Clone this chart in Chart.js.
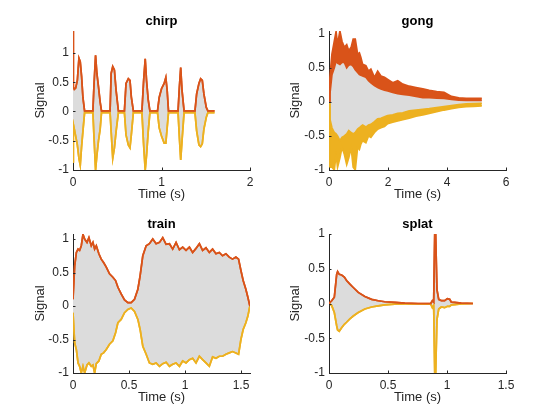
<!DOCTYPE html>
<html>
<head>
<meta charset="utf-8">
<script src="https://cdn.jsdelivr.net/npm/chart.js@4.4.0/dist/chart.umd.min.js"></script>
<style>
  html, body { margin: 0; padding: 0; background: #fff; }
  body { width: 560px; height: 420px; position: relative; overflow: hidden; }
  .panel { position: absolute; width: 280px; height: 210px; }
</style>
</head>
<body>
<div class="panel" style="left:0;top:0"><canvas id="chirp" width="280" height="210"></canvas></div>
<div class="panel" style="left:280px;top:0"><canvas id="gong" width="280" height="210"></canvas></div>
<div class="panel" style="left:0;top:203px"><canvas id="train" width="280" height="210"></canvas></div>
<div class="panel" style="left:280px;top:203px"><canvas id="splat" width="280" height="210"></canvas></div>
<script>
// envelope values (time in s)
const chirpTime = [0, 0.004, 0.015, 0.030, 0.049, 0.067, 0.082, 0.097, 0.112, 0.131,
  0.225, 0.236, 0.255, 0.270, 0.288, 0.307, 0.322,
  0.419, 0.431, 0.449, 0.468, 0.487, 0.513,
  0.581, 0.599, 0.625, 0.644, 0.659, 0.682,
  0.779, 0.798, 0.816, 0.831, 0.850, 0.869,
  0.955, 0.974, 1.000, 1.030, 1.049, 1.064, 1.079,
  1.187, 1.202, 1.217, 1.232, 1.255,
  1.378, 1.397, 1.423, 1.442, 1.461, 1.479, 1.506, 1.524, 1.599];
const chirpUpper = [1.38, 0.42, 0.38, 0.40, 0.53, 0.91, 0.85, 0.60, 0.24, 0.01,
  0.01, 0.42, 0.96, 0.65, 0.42, 0.16, 0.01,
  0.01, 0.65, 0.77, 0.71, 0.36, 0.01,
  0.01, 0.48, 0.56, 0.53, 0.25, 0.01,
  0.01, 0.53, 0.90, 0.53, 0.20, 0.01,
  0.01, 0.24, 0.39, 0.48, 0.58, 0.36, 0.01,
  0.01, 0.42, 0.75, 0.36, 0.01,
  0.01, 0.30, 0.48, 0.56, 0.53, 0.30, 0.07, 0.01, 0.01];
const chirpLower = [-0.86, -0.22, -0.30, -0.42, -0.57, -0.80, -0.92, -0.60, -0.34, -0.02,
  -0.02, -0.40, -1.00, -0.75, -0.50, -0.30, -0.02,
  -0.02, -0.34, -0.80, -0.62, -0.34, -0.02,
  -0.02, -0.40, -0.57, -0.62, -0.40, -0.02,
  -0.02, -0.57, -1.00, -0.75, -0.34, -0.02,
  -0.02, -0.28, -0.42, -0.54, -0.54, -0.28, -0.02,
  -0.02, -0.45, -0.83, -0.50, -0.02,
  -0.02, -0.33, -0.57, -0.60, -0.55, -0.30, -0.10, -0.02, -0.02];

// the gong envelopes wobble fast, so each one is a band: outer and inner edge
const gongTime = [0, 0.03, 0.10, 0.18, 0.24, 0.29, 0.37, 0.44, 0.52, 0.60, 0.67, 0.75,
  0.82, 0.89, 0.97, 1.03, 1.08, 1.14, 1.25, 1.34, 1.42, 1.54, 1.65, 1.76, 1.88, 1.99,
  2.16, 2.33, 2.50, 2.72, 2.95, 3.18, 3.40, 3.65, 3.90, 4.15, 4.40, 4.65, 4.90, 5.18];
const gongUpperOuter = [0.00, 0.36, 0.70, 0.89, 1.03, 0.84, 1.04, 0.89, 0.80, 0.84, 0.75, 0.80,
  0.92, 0.92, 0.70, 0.72, 0.65, 0.55, 0.53, 0.45, 0.48, 0.36, 0.45, 0.38, 0.36, 0.33,
  0.28, 0.31, 0.26, 0.23, 0.21, 0.19, 0.17, 0.15, 0.14, 0.08, 0.06, 0.05, 0.05, 0.05];
const gongUpperInner = [0.00, 0.11, 0.40, 0.50, 0.60, 0.57, 0.55, 0.58, 0.58, 0.50, 0.54, 0.55,
  0.52, 0.47, 0.43, 0.40, 0.39, 0.38, 0.36, 0.31, 0.28, 0.24, 0.21, 0.19, 0.17, 0.16,
  0.14, 0.12, 0.11, 0.10, 0.08, 0.06, 0.06, 0.055, 0.05, 0.035, 0.025, 0.02, 0.02, 0.02];
const gongLowerInner = [-0.02, -0.25, -0.38, -0.45, -0.47, -0.50, -0.57, -0.52, -0.50, -0.47, -0.42, -0.45,
  -0.47, -0.45, -0.40, -0.38, -0.36, -0.34, -0.37, -0.34, -0.33, -0.29, -0.25, -0.24, -0.22, -0.20,
  -0.19, -0.17, -0.16, -0.13, -0.12, -0.11, -0.10, -0.085, -0.07, -0.055, -0.04, -0.03, -0.025, -0.02];
const gongLowerOuter = [-0.02, -0.96, -0.96, -1.00, -0.77, -0.96, -0.82, -0.67, -0.77, -0.92, -0.82, -0.67,
  -0.96, -1.00, -0.67, -0.70, -0.62, -0.57, -0.60, -0.50, -0.52, -0.45, -0.40, -0.38, -0.36, -0.32,
  -0.30, -0.28, -0.26, -0.24, -0.21, -0.19, -0.17, -0.145, -0.12, -0.10, -0.08, -0.07, -0.065, -0.06];

const trainTime = [0, 0.015, 0.030, 0.045, 0.059, 0.074, 0.089, 0.104, 0.125, 0.142, 0.163, 0.178,
  0.193, 0.208, 0.231, 0.252, 0.273, 0.297, 0.326, 0.356, 0.380, 0.401, 0.430, 0.460, 0.490,
  0.519, 0.549, 0.579, 0.599, 0.623, 0.653, 0.682, 0.712, 0.742, 0.772, 0.801, 0.831, 0.861,
  0.890, 0.920, 0.950, 0.979, 1.009, 1.039, 1.068, 1.098, 1.128, 1.157, 1.187, 1.217, 1.246,
  1.276, 1.306, 1.335, 1.365, 1.395, 1.424, 1.454, 1.478, 1.499, 1.519, 1.543, 1.561, 1.579];
const trainUpper = [0.10, 0.60, 0.80, 0.85, 0.83, 0.90, 1.07, 1.00, 0.95, 1.02, 0.90, 0.95,
  0.85, 0.90, 0.78, 0.70, 0.65, 0.58, 0.48, 0.43, 0.38, 0.28, 0.18, 0.09, 0.05,
  0.05, 0.10, 0.25, 0.45, 0.75, 0.90, 0.93, 1.00, 0.93, 0.95, 1.02, 0.92, 0.93,
  0.85, 0.95, 0.84, 0.88, 0.83, 0.88, 0.80, 0.86, 0.93, 0.83, 0.87, 0.80, 0.85,
  0.78, 0.80, 0.75, 0.78, 0.73, 0.70, 0.73, 0.70, 0.53, 0.38, 0.25, 0.13, 0.00];
const trainLower = [-0.10, -0.55, -0.65, -0.85, -0.90, -1.00, -0.90, -1.00, -0.88, -0.85, -0.90, -0.88,
  -1.00, -0.86, -0.82, -0.72, -0.70, -0.65, -0.57, -0.52, -0.40, -0.25, -0.20, -0.10, -0.05,
  -0.03, -0.08, -0.20, -0.35, -0.60, -0.72, -0.85, -0.87, -0.85, -0.90, -0.86, -0.84, -0.90,
  -0.87, -0.85, -0.90, -0.82, -0.85, -0.80, -0.78, -0.85, -0.75, -0.80, -0.85, -0.90, -0.76,
  -0.78, -0.75, -0.75, -0.72, -0.70, -0.68, -0.70, -0.72, -0.50, -0.35, -0.25, -0.15, 0.00];

const splatTime = [0, 0.023, 0.045, 0.065, 0.073, 0.087, 0.107, 0.130, 0.149, 0.177, 0.206, 0.248,
  0.304, 0.361, 0.417, 0.473, 0.558, 0.642, 0.755, 0.862, 0.876, 0.887, 0.896, 0.904, 0.915,
  0.930, 0.952, 0.980, 1.003, 1.023, 1.037, 1.065, 1.121, 1.220];
const splatUpper = [0.00, 0.04, 0.09, 0.42, 0.46, 0.42, 0.41, 0.38, 0.33, 0.28, 0.23, 0.16,
  0.10, 0.06, 0.04, 0.025, 0.015, 0.005, 0.00, 0.00, 0.04, 0.02, 1.00, 1.00, 0.20,
  0.06, 0.04, 0.04, 0.07, 0.06, 0.02, 0.015, 0.005, 0.00];
const splatLower = [0.00, -0.03, -0.13, -0.32, -0.38, -0.40, -0.35, -0.30, -0.27, -0.22, -0.18, -0.13,
  -0.08, -0.05, -0.035, -0.02, -0.01, -0.005, -0.005, -0.01, -0.06, -0.03, -1.00, -1.00, -0.23,
  -0.08, -0.05, -0.06, -0.04, -0.04, -0.02, -0.015, -0.005, 0.00];

const yTicks = [-1, -0.5, 0, 0.5, 1];
const chirpXTicks = [0, 1, 2];
const gongXTicks = [0, 2, 4, 6];
const trainXTicks = [0, 0.5, 1, 1.5];
const splatXTicks = [0, 0.5, 1, 1.5];

const FONT = "'Liberation Sans', Arial, Helvetica, sans-serif";
const AXIS = '#262626';
const ORANGE = '#D95319';
const YELLOW = '#EDB120';
const GREY = 'rgb(220, 220, 220)';

// MATLAB style ticks pointing into the axes
const innerTicks = {
  id: 'innerTicks',
  afterDraw(chart) {
    const {ctx, chartArea, scales} = chart;
    ctx.save();
    ctx.strokeStyle = AXIS;
    ctx.lineWidth = 1;
    scales.x.ticks.forEach(t => {
      const px = Math.round(scales.x.getPixelForValue(t.value)) + 0.5;
      ctx.beginPath();
      ctx.moveTo(px, chartArea.bottom);
      ctx.lineTo(px, chartArea.bottom - 2.5);
      ctx.stroke();
    });
    scales.y.ticks.forEach(t => {
      const py = Math.round(scales.y.getPixelForValue(t.value)) + 0.5;
      ctx.beginPath();
      ctx.moveTo(chartArea.left, py);
      ctx.lineTo(chartArea.left + 2.5, py);
      ctx.stroke();
    });
    ctx.restore();
  }
};

const line = (label, points, color, fill, fillColor) => ({
  label: label,
  data: points,
  borderColor: color,
  backgroundColor: fillColor,
  fill: fill,
  borderWidth: 1.7,
  pointRadius: 0,
  tension: 0,
});

function envelopePlot(id, time, upperOuter, upperInner, lowerInner, lowerOuter, xMax, yMax, xTicks, axisLeft, axisRight, ylabelX) {
  const toPoints = vals => vals.map((v, i) => ({x: time[i], y: v}));
  return new Chart(document.getElementById(id), {
    type: 'line',
    data: {
      datasets: [
        line('upper', toPoints(upperOuter), ORANGE, '+1', ORANGE),
        line('upper inner', toPoints(upperInner), ORANGE, '+1', GREY),
        line('lower inner', toPoints(lowerInner), YELLOW, '+1', YELLOW),
        line('lower', toPoints(lowerOuter), YELLOW, false, YELLOW),
      ]
    },
    options: {
      responsive: false,
      animation: false,
      events: [],
      layout: {padding: {left: 0, right: 280 - axisRight, top: 0, bottom: 4}},
      plugins: {
        legend: {display: false},
        tooltip: {enabled: false},
        filler: {drawTime: 'beforeDatasetsDraw'},
        title: {
          display: true,
          fullSize: false,
          text: id,
          color: '#000',
          font: {family: FONT, size: 13, weight: 'bold'},
          padding: {top: 13.2, bottom: 2.2},
        },
      },
      scales: {
        x: {
          type: 'linear',
          min: 0,
          max: xMax,
          grid: {display: false, drawTicks: false, tickLength: 0},
          border: {display: true, color: AXIS, width: 1},
          ticks: {
            color: AXIS, padding: 5, autoSkip: false, maxRotation: 0,
            font: {family: FONT, size: 12},
            callback: v => String(v),
          },
          title: {
            display: true, text: 'Time (s)', color: AXIS,
            font: {family: FONT, size: 13},
            padding: {top: 0, bottom: 4.2},
          },
          afterBuildTicks: s => { s.ticks = xTicks.map(v => ({value: v})); },
          afterFit: s => { s.height = 36; s.paddingLeft = 0; s.paddingRight = 0; },
        },
        y: {
          type: 'linear',
          min: -1,
          max: yMax,
          grid: {display: false, drawTicks: false, tickLength: 0},
          border: {display: true, color: AXIS, width: 1},
          ticks: {
            color: AXIS, padding: 4, autoSkip: false,
            font: {family: FONT, size: 12},
            callback: v => String(v),
          },
          title: {
            display: true, text: 'Signal', color: AXIS,
            font: {family: FONT, size: 13},
            padding: {top: ylabelX - 7.8, bottom: 0},
          },
          afterBuildTicks: s => { s.ticks = yTicks.map(v => ({value: v})); },
          afterFit: s => { s.width = axisLeft; s.paddingTop = 0; s.paddingBottom = 0; },
        },
      }
    },
    plugins: [innerTicks]
  });
}

envelopePlot('chirp', chirpTime, chirpUpper, chirpUpper, chirpLower, chirpLower, 2, 1.376, chirpXTicks, 73, 250, 40);
envelopePlot('gong', gongTime, gongUpperOuter, gongUpperInner, gongLowerInner, gongLowerOuter, 6, 1.04, gongXTicks, 49, 226, 15);
envelopePlot('train', trainTime, trainUpper, trainUpper, trainLower, trainLower, 1.58, 1.075, trainXTicks, 73, 250, 40);
envelopePlot('splat', splatTime, splatUpper, splatUpper, splatLower, splatLower, 1.5, 1, splatXTicks, 49, 226, 15);
</script>
</body>
</html>
